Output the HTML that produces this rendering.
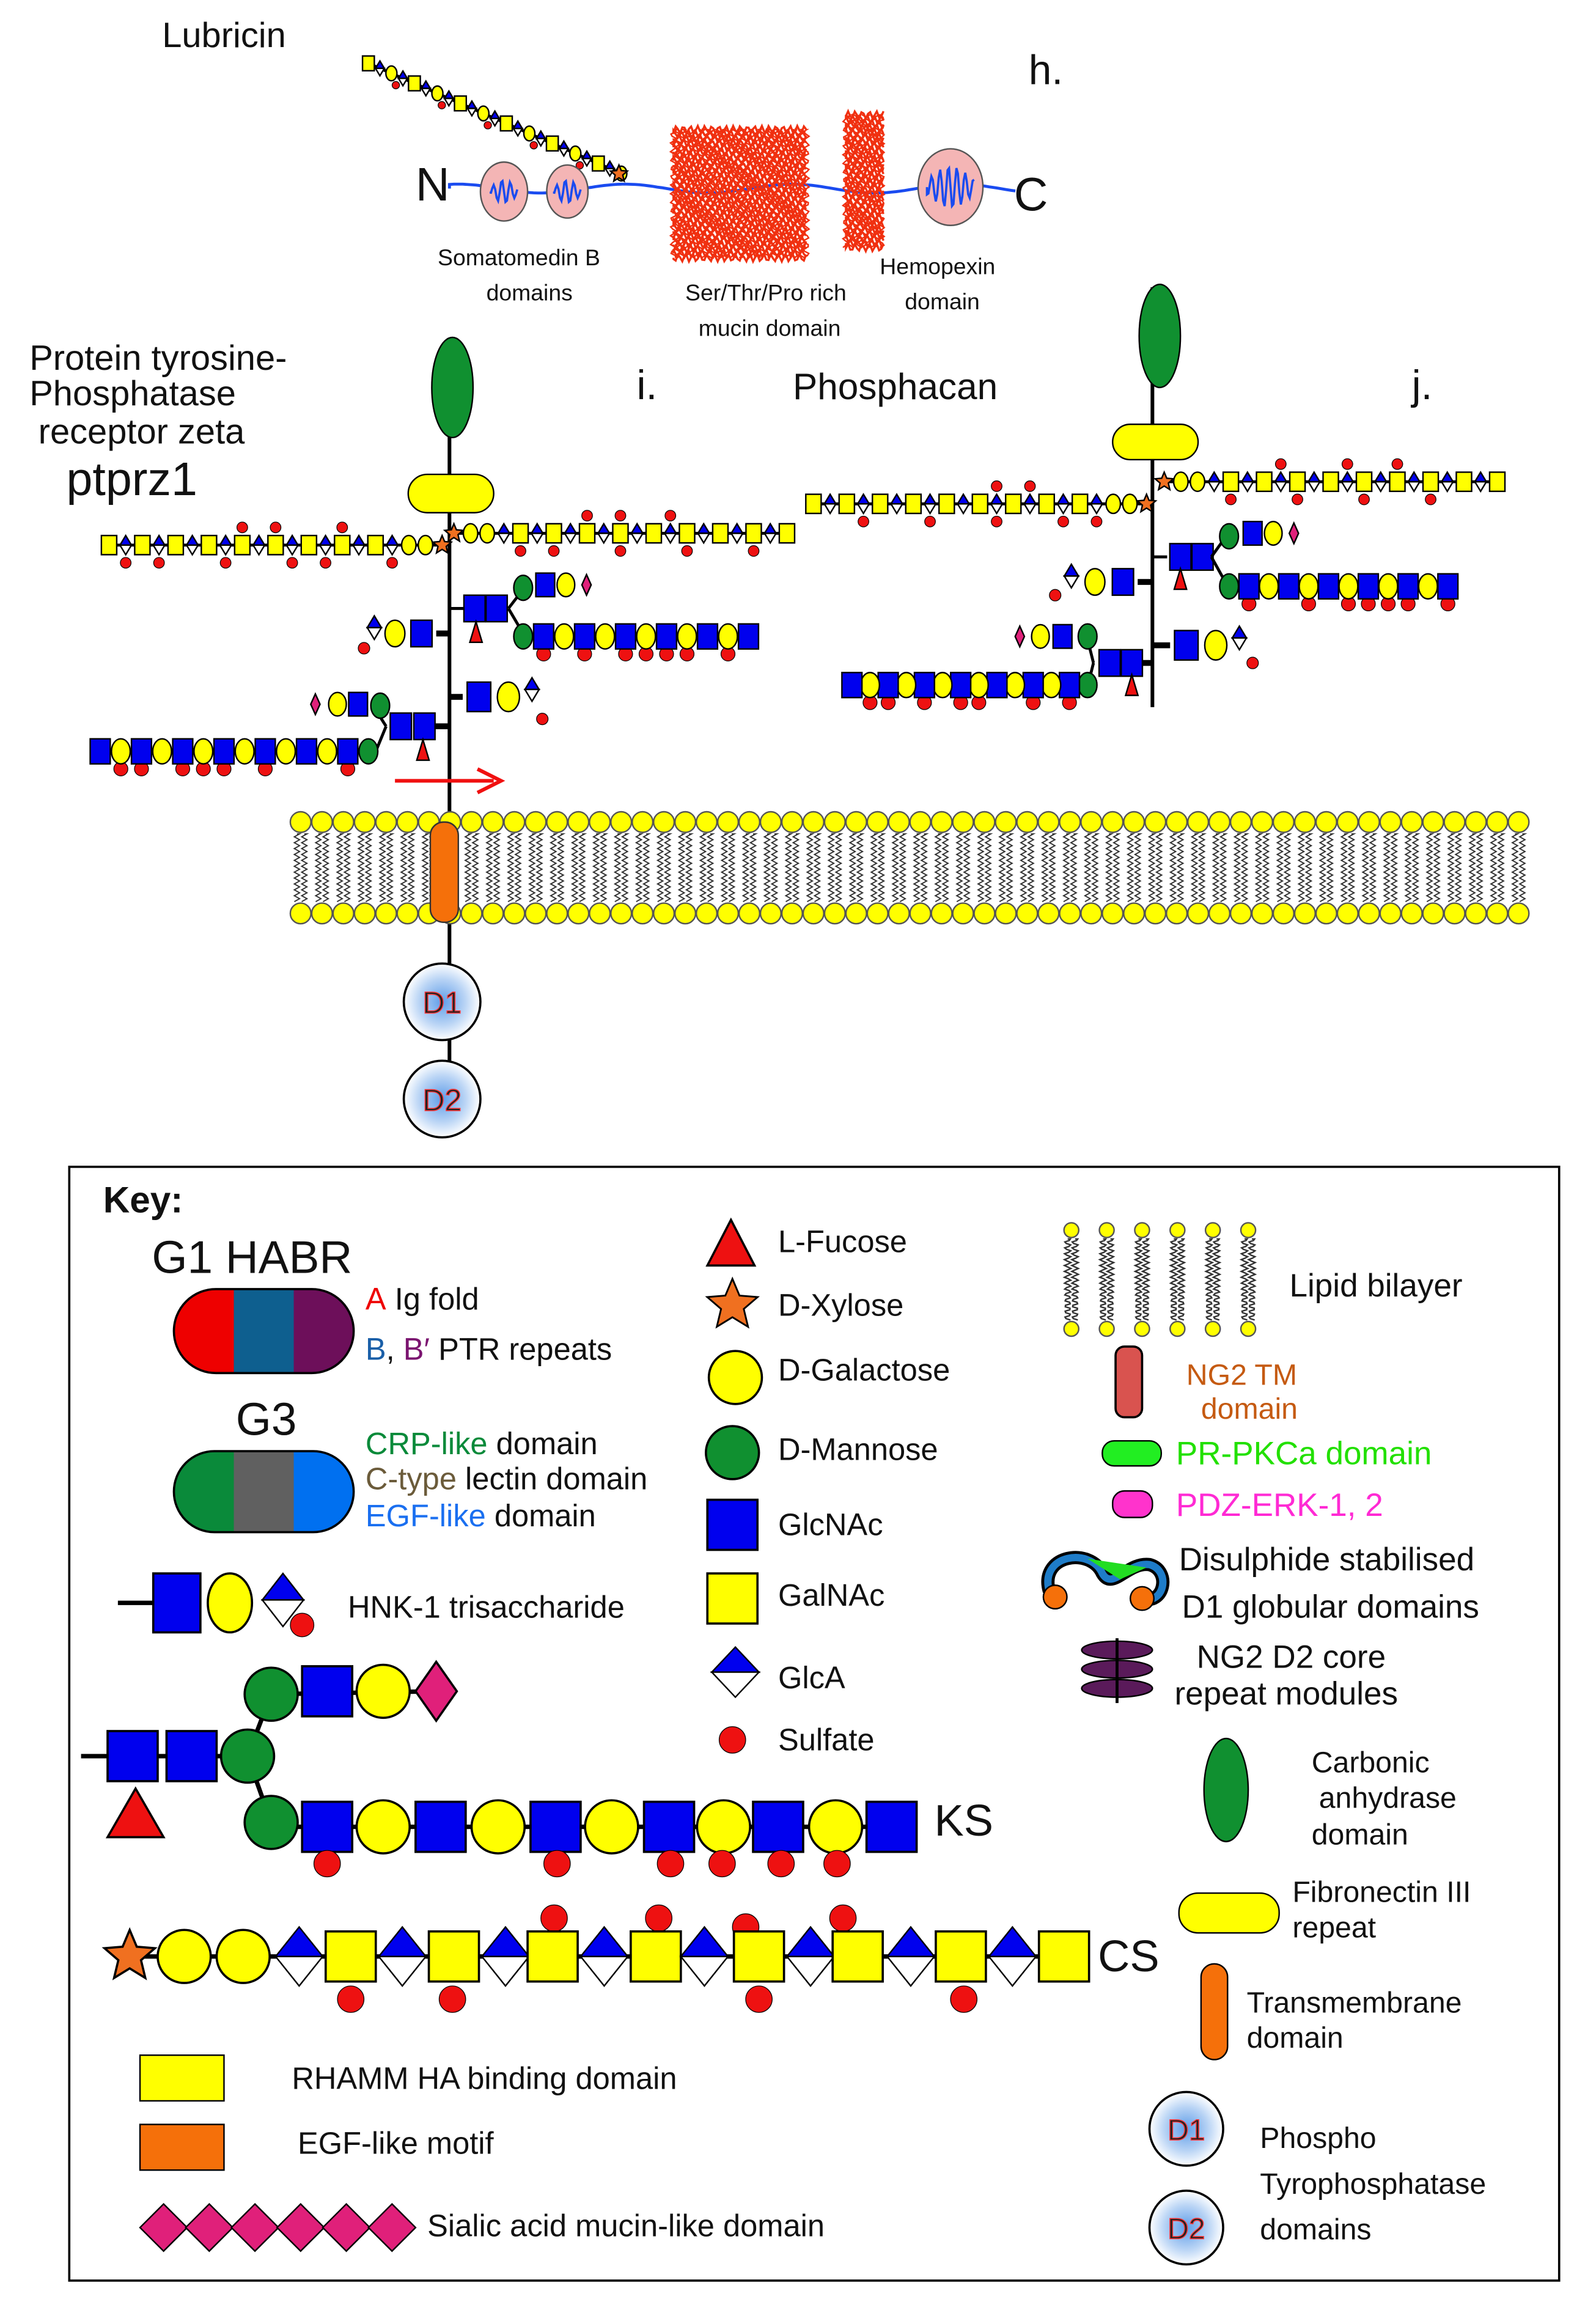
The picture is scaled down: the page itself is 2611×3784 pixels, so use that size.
<!DOCTYPE html>
<html><head><meta charset="utf-8"><style>
html,body{margin:0;padding:0;background:#fff}
svg{display:block}
text{font-family:"Liberation Sans",sans-serif;fill:#111}
</style></head><body>
<svg id="s" width="2611" height="3784" viewBox="0 0 1083 1570" preserveAspectRatio="none" xmlns="http://www.w3.org/2000/svg">
<defs>
<radialGradient id="dg" cx="50%" cy="50%" r="50%"><stop offset="0" stop-color="#5f9de8"/><stop offset="0.6" stop-color="#b9d4f5"/><stop offset="1" stop-color="#ffffff"/></radialGradient>
</defs>
<rect width="1083" height="1570" fill="#fff"/>
<g id="g"></g>
<text x="110" y="32" font-size="24">Lubricin</text>
<text x="698" y="57" font-size="28">h.</text>
<text x="282" y="136" font-size="32">N</text>
<text x="688" y="143" font-size="32">C</text>
<text x="297" y="180" font-size="15.5">Somatomedin B</text>
<text x="330" y="204" font-size="15.5">domains</text>
<text x="465" y="204" font-size="15.5">Ser/Thr/Pro rich</text>
<text x="474" y="228" font-size="15.5">mucin domain</text>
<text x="597" y="186" font-size="15.5">Hemopexin</text>
<text x="614" y="210" font-size="15.5">domain</text>
<text x="20" y="251" font-size="24">Protein tyrosine-</text>
<text x="20" y="275" font-size="24">Phosphatase</text>
<text x="26" y="301" font-size="24">receptor zeta</text>
<text x="45" y="336" font-size="32">ptprz1</text>
<text x="432" y="271" font-size="28">i.</text>
<text x="538" y="271" font-size="25">Phosphacan</text>
<text x="958" y="271" font-size="28">j.</text>
<rect x="47" y="792" width="1011" height="756" fill="none" stroke="#000" stroke-width="1.5"/>
<text x="70" y="823" font-size="25" font-weight="bold">Key:</text>
<text x="103" y="864" font-size="31">G1 HABR</text>
<text x="160" y="974" font-size="31">G3</text>
<text x="248" y="889" font-size="21"><tspan fill="#e00">A</tspan> Ig fold</text>
<text x="248" y="923" font-size="21"><tspan fill="#1a5fa8">B</tspan>, <tspan fill="#7b1470">B′</tspan> PTR repeats</text>
<text x="248" y="987" font-size="21"><tspan fill="#0a8a3a">CRP-like</tspan> domain</text>
<text x="248" y="1011" font-size="21"><tspan fill="#6b5b3a">C-type</tspan> lectin domain</text>
<text x="248" y="1036" font-size="21"><tspan fill="#1a6ff0">EGF-like</tspan> domain</text>
<text x="236" y="1098" font-size="21">HNK-1 trisaccharide</text>
<text x="634" y="1246" font-size="30">KS</text>
<text x="745" y="1338" font-size="30">CS</text>
<text x="198" y="1418" font-size="21">RHAMM HA binding domain</text>
<text x="202" y="1462" font-size="21">EGF-like motif</text>
<text x="290" y="1518" font-size="21">Sialic acid mucin-like domain</text>
<text x="528" y="850" font-size="21">L-Fucose</text>
<text x="528" y="893" font-size="21">D-Xylose</text>
<text x="528" y="937" font-size="21">D-Galactose</text>
<text x="528" y="991" font-size="21">D-Mannose</text>
<text x="528" y="1042" font-size="21">GlcNAc</text>
<text x="528" y="1090" font-size="21">GalNAc</text>
<text x="528" y="1146" font-size="21">GlcA</text>
<text x="528" y="1188" font-size="21">Sulfate</text>
<text x="875" y="880" font-size="22">Lipid bilayer</text>
<text x="805" y="940" font-size="20" style="fill:#c55a11">NG2  TM</text>
<text x="815" y="963" font-size="20" style="fill:#c55a11">domain</text>
<text x="798" y="994" font-size="22" style="fill:#22e000">PR-PKCa  domain</text>
<text x="798" y="1029" font-size="22" style="fill:#ff2ad4">PDZ-ERK-1, 2</text>
<text x="800" y="1066" font-size="22">Disulphide stabilised</text>
<text x="802" y="1098" font-size="22">D1 globular domains</text>
<text x="812" y="1132" font-size="22">NG2 D2 core</text>
<text x="797" y="1157" font-size="22">repeat modules</text>
<text x="890" y="1203" font-size="20">Carbonic</text>
<text x="895" y="1227" font-size="20">anhydrase</text>
<text x="890" y="1252" font-size="20">domain</text>
<text x="877" y="1291" font-size="20">Fibronectin III</text>
<text x="877" y="1315" font-size="20">repeat</text>
<text x="846" y="1366" font-size="20">Transmembrane</text>
<text x="846" y="1390" font-size="20">domain</text>
<text x="855" y="1458" font-size="20">Phospho</text>
<text x="855" y="1489" font-size="20">Tyrophosphatase</text>
<text x="855" y="1520" font-size="20">domains</text>
<g id="t"></g>
</svg>
<script>
const G=document.getElementById('g'),T=document.getElementById('t');
const NS='http://www.w3.org/2000/svg';
function el(tag,a,p){const e=document.createElementNS(NS,tag);for(const k in a)e.setAttribute(k,a[k]);(p||G).appendChild(e);return e;}
const BL='#0000ee',YE='#ffff00',GR='#109030',PK='#e0207a',RD='#ee1111';
function sug(t,x,y,s,sw){sw=sw||1;const h=s/2;
 if(t=='B')el('rect',{x:x-h*0.8,y:y-h,width:s*0.8,height:s,fill:BL,stroke:'#000','stroke-width':sw});
 else if(t=='Y')el('rect',{x:x-h*0.8,y:y-h,width:s*0.8,height:s,fill:YE,stroke:'#000','stroke-width':sw});
 else if(t=='o')el('ellipse',{cx:x,cy:y,rx:h*0.75,ry:h,fill:YE,stroke:'#000','stroke-width':sw});
 else if(t=='G')el('ellipse',{cx:x,cy:y,rx:h*0.75,ry:h,fill:GR,stroke:'#000','stroke-width':sw});
 else if(t=='d'){const w=h*0.6;el('polygon',{points:`${x},${y-h} ${x+w},${y} ${x-w},${y}`,fill:BL,stroke:'#000','stroke-width':sw});el('polygon',{points:`${x-w},${y} ${x+w},${y} ${x},${y+h}`,fill:'#fff',stroke:'#000','stroke-width':sw});}
 else if(t=='p'){const w=h*0.45;el('polygon',{points:`${x},${y-h} ${x+w},${y} ${x},${y+h} ${x-w},${y}`,fill:PK,stroke:'#000','stroke-width':sw});}
 else if(t=='f')el('polygon',{points:`${x},${y-h} ${x+h*0.6},${y+h} ${x-h*0.6},${y+h}`,fill:RD,stroke:'#000','stroke-width':sw});
 else if(t=='s'){let p=[];for(let i=0;i<10;i++){const r=i%2?h*0.45:h;const a=-Math.PI/2+i*Math.PI/5;p.push((x+r*Math.cos(a)).toFixed(1)+','+(y+r*Math.sin(a)).toFixed(1));}el('polygon',{points:p.join(' '),fill:'#f07020',stroke:'#000','stroke-width':sw});}
 else if(t=='S')el('circle',{cx:x,cy:y,r:s*0.28,fill:RD,stroke:'#000','stroke-width':sw*0.5});
}
function chain(x0,y0,step,pat,s,sulf,dy){dy=dy||0;sulf=sulf||'';
 const n=pat.length;el('line',{x1:x0,y1:y0,x2:x0+step*(n-1),y2:y0+dy*(n-1),stroke:'#000','stroke-width':2});
 for(let i=0;i<n;i++){const x=x0+step*i,y=y0+dy*i;const c=sulf[i];
  if(c=='u')sug('S',x,y-s*0.7,s);if(c=='d')sug('S',x,y+s*0.7,s);}
 for(let i=0;i<n;i++)sug(pat[i],x0+step*i,y0+dy*i,s);}
function line(x1,y1,x2,y2,w,c){el('line',{x1,y1,x2,y2,stroke:c||'#000','stroke-width':w||2});}

// Lubricin
chain(250,43,7.8,'YdodYdodYdodYdodYdodYdo',10,'',3.4);
for(let i=2;i<22;i+=4)sug('S',250+7.8*i+3,43+3.4*i+8,9);
sug('s',420,118,12);
let d='M305,128';for(let x=305;x<=690;x+=3){d+=` L${x},${(128+3*Math.sin(x/18)).toFixed(1)}`;}
el('path',{d,fill:'none',stroke:'#1a4bf0','stroke-width':2});
function mucin(x1,x2,y1,y2){for(let y=y1;y<=y2;y+=3){let p=`M${x1},${y}`;for(let x=x1;x<=x2;x+=1.5)p+=` L${x},${(y+2.5*Math.sin(x*1.3+y*0.7)).toFixed(1)}`;el('path',{d:p,fill:'none',stroke:'#f03010','stroke-width':1.4});}
 for(let x=x1;x<=x2;x+=3){let p=`M${x},${y1}`;for(let y=y1;y<=y2;y+=1.5)p+=` L${(x+2*Math.sin(y*1.1+x)).toFixed(1)},${y}`;el('path',{d:p,fill:'none',stroke:'#f03010','stroke-width':1});}}
mucin(457,548,88,175);mucin(574,600,78,168);
[[342,130,16,20],[385,130,14,18],[645,127,22,26]].forEach(a=>{el('ellipse',{cx:a[0],cy:a[1],rx:a[2],ry:a[3],fill:'#f4b5b5',stroke:'#555'});});
[[342,130,9],[385,130,9],[645,127,16]].forEach(a=>{let p=`M${a[0]-a[2]},${a[1]}`;for(let x=-a[2];x<=a[2];x+=1)p+=` L${a[0]+x},${(a[1]+a[2]*0.9*Math.sin(x*1.1)*Math.exp(-x*x/(a[2]*a[2]))).toFixed(1)}`;el('path',{d:p,fill:'none',stroke:'#1a4bf0','stroke-width':1.5});});

// Membrane
line(305,260,305,720,2.5);
for(let x=204;x<=1032;x+=14.5){
 el('circle',{cx:x,cy:558,r:7,fill:YE,stroke:'#555'});el('circle',{cx:x,cy:620,r:7,fill:YE,stroke:'#555'});
 [-2.5,2.5].forEach(o=>{let p=`M${x+o},566`;for(let y=566;y<=612;y+=2)p+=` L${x+o+(y%4?1.8:-1.8)},${y}`;el('path',{d:p,fill:'none',stroke:'#333','stroke-width':0.8});});
}
el('rect',{x:292,y:558,width:19,height:68,rx:9,fill:'#f5700a',stroke:'#333'});
function dd(x,y,r,lab){el('circle',{cx:x,cy:y,r,fill:'url(#dg)',stroke:'#000','stroke-width':1.5});const t=el('text',{x,y:y+r*0.3,'text-anchor':'middle','font-size':r*0.8,style:'fill:#222;stroke:#f33;stroke-width:0.6'},T);t.textContent=lab;}
dd(300,680,26,'D1');dd(300,746,26,'D2');dd(805,1445,25,'D1');dd(805,1512,25,'D2');
line(268,530,335,530,2.5,'#f01010');el('path',{d:'M324,522 L340,530 L324,538',fill:'none',stroke:'#f01010','stroke-width':2.5});

// Structure i
el('ellipse',{cx:307,cy:263,rx:14,ry:34,fill:GR,stroke:'#000'});
el('rect',{x:277,y:322,width:58,height:26,rx:13,fill:YE,stroke:'#000'});
chain(300,370,-11.3,'soodYdYdYdYdYdYdYdYdY',13,'');
for(let k of [3,7,9,13,17,19])sug('S',300-11.3*k,382,13);
for(let k of [6,10,12])sug('S',300-11.3*k,358,13);
chain(308,362,11.3,'soodYdYdYdYdYdYdYdYdY',13,'');
for(let k of [4,6,10,14,18])sug('S',308+11.3*k,374,13);
for(let k of [8,10,13])sug('S',308+11.3*k,350,13);
line(305,413,320,413);sug('B',322,413,18);sug('B',337,413,18);sug('f',323,429,14);
line(345,413,355,400);line(345,413,355,430);
sug('G',355,399,17);sug('B',370,397,16);sug('o',384,397,16);sug('p',398,397,14);
chain(355,432,13.9,'GBoBoBoBoBoB',17,'-d-d-dddd-d-');
line(296,430,305,430,4);sug('B',286,430,18);sug('o',268,430,18);sug('d',254,426,16);sug('S',247,440,14);
line(305,473,314,473,4);sug('B',325,473,20);sug('o',345,473,20);sug('d',361,468,16);sug('S',368,488,14);
line(295,493,305,493,4);sug('B',288,493,18);sug('B',272,493,18);sug('f',287,509,14);
line(262,493,255,482);line(262,493,255,510);
sug('G',258,479,17);sug('B',243,478,16);sug('o',229,478,16);sug('p',214,478,14);
chain(250,510,-14,'GBoBoBoBoBoBoB',17,'-d---d-ddd-dd-');

// Structure j
line(782,195,782,480,2.5);
el('ellipse',{cx:787,cy:228,rx:14,ry:35,fill:GR,stroke:'#000'});
el('rect',{x:755,y:288,width:58,height:24,rx:12,fill:YE,stroke:'#000'});
chain(778,342,-11.3,'soodYdYdYdYdYdYdYdYdY',13,'');
for(let k of [3,5,9,13,17])sug('S',778-11.3*k,354,13);
for(let k of [7,9])sug('S',778-11.3*k,330,13);
chain(790,327,11.3,'soodYdYdYdYdYdYdYdYdY',13,'');
for(let k of [4,8,12,16])sug('S',790+11.3*k,339,13);
for(let k of [7,11,14])sug('S',790+11.3*k,315,13);
line(782,378,792,378);sug('B',801,378,18);sug('B',816,378,18);sug('f',801,393,14);
line(822,378,832,364);line(822,378,832,396);
sug('G',834,364,17);sug('B',850,362,16);sug('o',864,362,16);sug('p',878,362,14);
chain(834,398,13.5,'GBoBoBoBoBoB',17,'-d--d-dddd-d');
line(772,395,782,395,4);sug('B',762,395,18);sug('o',743,395,18);sug('d',727,391,16);sug('S',716,404,14);
line(782,438,794,438,4);sug('B',805,438,20);sug('o',825,438,20);sug('d',841,433,16);sug('S',850,450,14);
line(772,450,782,450,4);sug('B',768,450,18);sug('B',753,450,18);sug('f',768,465,14);
line(742,450,738,434);line(742,450,738,466);
sug('G',738,432,17);sug('B',721,432,16);sug('o',706,432,16);sug('p',692,432,14);
chain(738,465,-12.3,'GBoBoBoBoBoBoB',17,'-d-d--dd-d-dd-');

// KEY
function pill3(x,y,w,h,cols,id){const r=h/2;
 const c=el('clipPath',{id});el('rect',{x,y,width:w,height:h,rx:r},c);
 const g=el('g',{'clip-path':`url(#${id})`});const tw=w/3;cols.forEach((col,i)=>el('rect',{x:x+i*tw,y,width:tw+0.5,height:h,fill:col},g));
 el('rect',{x,y,width:w,height:h,rx:r,fill:'none',stroke:'#000','stroke-width':1.5});}
pill3(118,875,122,57,['#ee0000','#0e5f8f','#6d0f5a'],'cp1');
pill3(118,985,122,55,['#0a8a3a','#606060','#0070f0'],'cp2');
line(80,1088,104,1088,3);sug('B',120,1088,40,1.5);sug('o',156,1088,40,1.5);
(function(){const x=192,y=1086,h=18,w=14;el('polygon',{points:`${x},${y-h} ${x+w},${y} ${x-w},${y}`,fill:BL,stroke:'#000'});el('polygon',{points:`${x-w},${y} ${x+w},${y} ${x},${y+h}`,fill:'#fff',stroke:'#000'});})();
el('circle',{cx:205,cy:1103,r:8,fill:RD,stroke:'#000','stroke-width':0.5});
function bsq(x,y,c){el('rect',{x:x-17,y:y-17,width:34,height:34,fill:c,stroke:'#000','stroke-width':1.5});}
function bc(x,y,c,r){el('circle',{cx:x,cy:y,r:r||18,fill:c,stroke:'#000','stroke-width':1.5});}
function sf(x,y){el('circle',{cx:x,cy:y,r:9,fill:RD,stroke:'#000','stroke-width':0.5});}
line(55,1192,170,1192,3);line(168,1192,184,1150,3);line(168,1192,184,1237,3);line(184,1150,296,1148,3);line(184,1240,605,1240,3);
bsq(90,1192,BL);bsq(130,1192,BL);
el('polygon',{points:'92,1214 111,1247 73,1247',fill:RD,stroke:'#000','stroke-width':1.5});
bc(168,1192,GR);bc(184,1150,GR);bsq(222,1148,BL);bc(260,1148,YE);
el('polygon',{points:'296,1128 310,1148 296,1168 282,1148',fill:PK,stroke:'#000','stroke-width':1.5});
bc(184,1237,GR);
[[222,'B'],[260,'o'],[299,'B'],[338,'o'],[377,'B'],[415,'o'],[454,'B'],[491,'o'],[528,'B'],[567,'o'],[605,'B']].forEach(a=>{if(a[1]=='B')bsq(a[0],1240,BL);else bc(a[0],1240,YE);});
[222,378,455,490,530,568].forEach(x=>sf(x,1265));
line(88,1328,722,1328,3);
(function(){const x=88,y=1328,h=18;let p=[];for(let i=0;i<10;i++){const r=i%2?h*0.45:h;const a=-Math.PI/2+i*Math.PI/5;p.push((x+r*Math.cos(a)).toFixed(1)+','+(y+r*Math.sin(a)).toFixed(1));}el('polygon',{points:p.join(' '),fill:'#f07020',stroke:'#000','stroke-width':1.5});})();
bc(125,1328,YE);bc(165,1328,YE);
[376,447,572].forEach(x=>sf(x,1302));sf(506,1308);
[238,307,515,654].forEach(x=>sf(x,1357));
const csx=[203,238,273,308,343,375,410,445,478,515,550,582,618,652,687,722];
csx.forEach((x,i)=>{if(i%2==0){const y=1328,h=20,w=16;el('polygon',{points:`${x},${y-h} ${x+w},${y} ${x-w},${y}`,fill:BL,stroke:'#000'});el('polygon',{points:`${x-w},${y} ${x+w},${y} ${x},${y+h}`,fill:'#fff',stroke:'#000'});}else bsq(x,1328,YE);});
el('rect',{x:95,y:1395,width:57,height:31,fill:YE,stroke:'#000'});
el('rect',{x:95,y:1442,width:57,height:31,fill:'#f5700a',stroke:'#000'});
for(let i=0;i<6;i++){const x=111+i*31;el('polygon',{points:`${x},1496 ${x+16},1512 ${x},1528 ${x-16},1512`,fill:PK,stroke:'#000'});}
el('polygon',{points:'496,828 512,859 480,859',fill:RD,stroke:'#000','stroke-width':1.5});
(function(){const x=497,y=886,h=18;let p=[];for(let i=0;i<10;i++){const r=i%2?h*0.45:h;const a=-Math.PI/2+i*Math.PI/5;p.push((x+r*Math.cos(a)).toFixed(1)+','+(y+r*Math.sin(a)).toFixed(1));}el('polygon',{points:p.join(' '),fill:'#f07020',stroke:'#000','stroke-width':1.2});})();
bc(499,935,YE);bc(497,986,GR);bsq(497,1035,BL);bsq(497,1085,YE);
(function(){const x=499,y=1135,h=17,w=16;el('polygon',{points:`${x},${y-h} ${x+w},${y} ${x-w},${y}`,fill:BL,stroke:'#000'});el('polygon',{points:`${x-w},${y} ${x+w},${y} ${x},${y+h}`,fill:'#fff',stroke:'#000'});})();
el('circle',{cx:497,cy:1181,r:9,fill:RD,stroke:'#000','stroke-width':0.5});
// legend lipid bilayer (coils)
for(let x=727;x<=850;x+=24){el('circle',{cx:x,cy:835,r:5,fill:YE,stroke:'#555'});el('circle',{cx:x,cy:902,r:5,fill:YE,stroke:'#555'});
 [-2.5,2.5].forEach(o=>{let p=`M${x+o},841`;for(let y=841;y<=896;y+=1)p+=` L${(x+o+2.2*Math.sin(y*1.6)).toFixed(1)},${y}`;el('path',{d:p,fill:'none',stroke:'#333','stroke-width':1});});}
el('rect',{x:757,y:914,width:18,height:48,rx:6,fill:'#d9534f',stroke:'#000','stroke-width':1.5});
el('rect',{x:748,y:978,width:40,height:17,rx:8,fill:'#22ee22',stroke:'#000'});
el('rect',{x:755,y:1012,width:27,height:18,rx:8,fill:'#ff33cc',stroke:'#000'});
el('path',{d:'M712,1080 C705,1055 740,1050 748,1068 C755,1080 765,1060 780,1062 C795,1066 790,1090 775,1085',fill:'none',stroke:'#000','stroke-width':9});
el('path',{d:'M712,1080 C705,1055 740,1050 748,1068 C755,1080 765,1060 780,1062 C795,1066 790,1090 775,1085',fill:'none',stroke:'#1e7cc8','stroke-width':5});
el('polygon',{points:'738,1058 778,1064 760,1072',fill:'#22dd22'});
el('circle',{cx:716,cy:1084,r:8,fill:'#f5700a',stroke:'#000'});el('circle',{cx:775,cy:1085,r:8,fill:'#f5700a',stroke:'#000'});
[1120,1133,1146].forEach(y=>el('ellipse',{cx:758,cy:y,rx:24,ry:6,fill:'#5a1a5a',stroke:'#000'}));
line(758,1112,758,1156,2);
el('ellipse',{cx:832,cy:1215,rx:15,ry:35,fill:GR,stroke:'#000'});
el('rect',{x:800,y:1285,width:68,height:27,rx:13,fill:YE,stroke:'#000'});
el('rect',{x:815,y:1333,width:18,height:65,rx:9,fill:'#f5700a',stroke:'#000'});
</script>
</body></html>
